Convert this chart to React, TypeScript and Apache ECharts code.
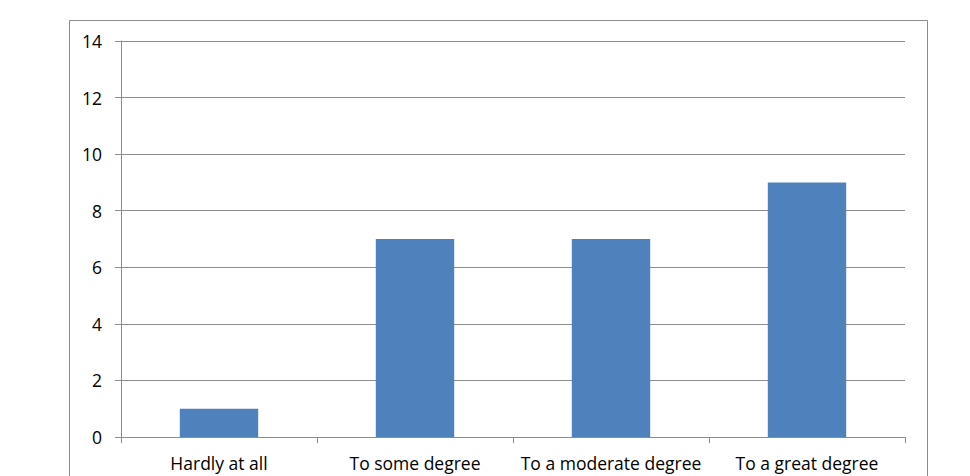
import React, { useEffect, useRef } from "react";
import * as echarts from "echarts";

const categories = ["Hardly at all", "To some degree", "To a moderate degree", "To a great degree"];
const values = [1, 7, 7, 9];
const yTicks = { min: 0, max: 14, interval: 2 };

export default function App() {
  const ref = useRef<HTMLDivElement>(null);
  useEffect(() => {
    if (!ref.current) return;
    const chart = echarts.init(ref.current, null, { renderer: "svg" });
    const font = "'Open Sans', sans-serif";
    chart.setOption({
      animation: false,
      backgroundColor: "#ffffff",
      grid: { left: 121, right: 65, top: 41, bottom: 39, containLabel: false },
      graphic: [
        {
          type: "rect",
          shape: { x: 69.5, y: 20.5, width: 858, height: 500 },
          style: { fill: "none", stroke: "#8c8c8c", lineWidth: 1 },
          silent: true,
          z: -1,
        },
      ],
      xAxis: {
        type: "category",
        data: categories,
        axisLine: { show: true, lineStyle: { color: "#8c8c8c", width: 1 } },
        axisTick: { show: true, alignWithLabel: false, length: 6, lineStyle: { color: "#8c8c8c" } },
        axisLabel: { color: "#000", fontFamily: font, fontSize: 17.5, margin: 17, interval: 0 },
        splitLine: { show: false },
      },
      yAxis: {
        type: "value",
        min: yTicks.min,
        max: yTicks.max,
        interval: yTicks.interval,
        axisLine: { show: true, lineStyle: { color: "#8c8c8c", width: 1 } },
        axisTick: { show: true, length: 6, lineStyle: { color: "#8c8c8c" } },
        axisLabel: { color: "#000", fontFamily: font, fontSize: 17.5, margin: 19 },
        splitLine: { show: true, lineStyle: { color: "#8c8c8c", width: 1 } },
      },
      series: [
        {
          type: "bar",
          data: values,
          barWidth: "40%",
          itemStyle: { color: "#4F81BD" },
        },
      ],
    });
    return () => chart.dispose();
  }, []);
  return (
    <div
      ref={ref}
      style={{ position: "absolute", left: 0, top: 0, width: 970, height: 476 }}
    />
  );
}
